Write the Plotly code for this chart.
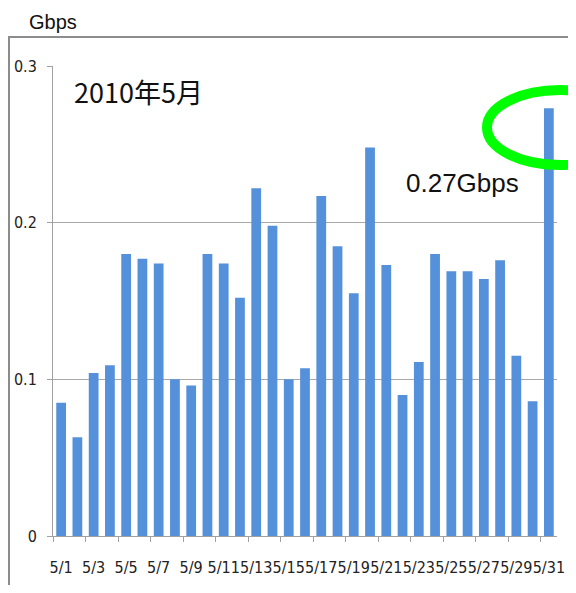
import plotly.graph_objects as go

dates = [f"5/{d}" for d in range(1, 32)]
traffic_gbps = [0.085, 0.063, 0.104, 0.109, 0.180, 0.177, 0.174, 0.100, 0.096, 0.180,
                0.174, 0.152, 0.222, 0.198, 0.100, 0.107, 0.217, 0.185, 0.155, 0.248,
                0.173, 0.090, 0.111, 0.180, 0.169, 0.169, 0.164, 0.176, 0.115, 0.086,
                0.273]
y_ticks = [0, 0.1, 0.2, 0.3]
y_tick_labels = ["0", "0.1", "0.2", "0.3"]

OFF = 8  # browser body margin
W, H = 576 - OFF, 593 - 2 * OFF
L, R, T = 53 - OFF, 19, 66 - OFF
B = H - (536 - OFF)
PW, PH = W - L - R, H - T - B

def px(x):
    return (x - OFF - L) / PW

def py(y):
    return (H - B - (y - OFF)) / PH

idx = list(range(1, len(dates) + 1))
label_vals = idx[::2]
label_text = dates[::2]
boundary_vals = [i - 0.5 for i in idx[::2]]

narrow = "Liberation Sans Narrow, DejaVu Sans Condensed, Arial Narrow, sans-serif"

fig = go.Figure(go.Bar(x=idx, y=traffic_gbps, marker=dict(color="#5590DA", line=dict(width=0)),
                       width=0.6))

fig.update_layout(
    width=W, height=H,
    margin=dict(l=L, r=R, t=T, b=B, pad=0),
    paper_bgcolor="white", plot_bgcolor="white",
    showlegend=False,
    xaxis=dict(
        range=[0.5, 31.5], tickmode="array", tickvals=label_vals, ticktext=label_text,
        ticks="", tickangle=0, showgrid=False, zeroline=False, automargin=False,
        showline=True, linecolor="#A0A0A0", linewidth=1,
        tickfont=dict(family=narrow, size=16, color="#222"),
        ticklabelstandoff=17,
        minor=dict(tickmode="array", tickvals=boundary_vals, ticks="outside", ticklen=5,
                   tickcolor="#A0A0A0", showgrid=False),
    ),
    yaxis=dict(
        range=[0, 0.3], tickmode="array", tickvals=y_ticks, ticktext=y_tick_labels,
        ticks="outside", ticklen=5, tickcolor="#A0A0A0", automargin=False,
        showgrid=True, gridcolor="#A8A8A8", gridwidth=1, zeroline=False,
        showline=True, linecolor="#A0A0A0", linewidth=1,
        tickfont=dict(family=narrow, size=16, color="#222"),
        ticklabelstandoff=7,
    ),
    shapes=[
        dict(type="rect", xref="paper", yref="paper",
             x0=px(9), x1=px(573), y0=py(620), y1=py(37),
             line=dict(color="#8C8C8C", width=2), fillcolor="rgba(0,0,0,0)", layer="below"),
        dict(type="circle", xref="paper", yref="paper",
             x0=px(487), x1=px(633), y0=py(165), y1=py(90),
             line=dict(color="#00FF00", width=10)),
    ],
    annotations=[
        dict(text="Gbps", xref="paper", yref="paper", x=px(27), y=py(22),
             xanchor="left", yanchor="middle", showarrow=False,
             font=dict(family="Liberation Sans, Arial, sans-serif", size=20, color="#111")),
        dict(text="2010年5月", xref="paper", yref="paper", x=px(72), y=py(91),
             xanchor="left", yanchor="middle", showarrow=False,
             font=dict(family="Noto Sans CJK JP, sans-serif", size=27, color="#111")),
        dict(text="0.27Gbps", xref="paper", yref="paper", x=px(404), y=py(183),
             xanchor="left", yanchor="middle", showarrow=False,
             font=dict(family="Liberation Sans, Arial, sans-serif", size=26, color="#111")),
    ],
)

fig.write_html("out.html")
